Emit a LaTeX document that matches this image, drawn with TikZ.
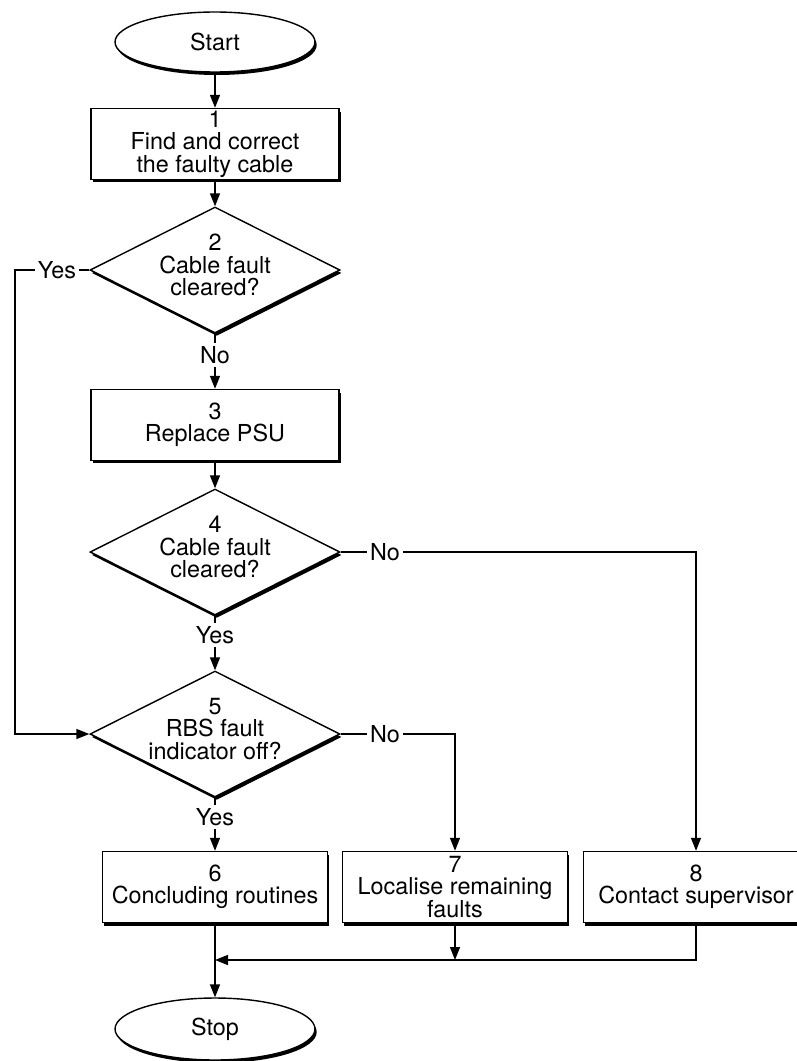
\documentclass[tikz,border=0pt]{standalone}
\usepackage{fontspec}
\setmainfont{TeX Gyre Heros}
\usetikzlibrary{
  positioning, arrows.meta,
  shapes.geometric, shadows
}

\begin{document}
\begin{tikzpicture}[x=0.02cm, y=-0.02cm, line width=0.8pt,
    font=\fontsize{13.3}{12.8}\selectfont,
    >={Triangle[length=0.26cm,width=0.2cm]},
    boxshadow/.style={fill=white, drop shadow={shadow xshift=0.035cm, shadow yshift=-0.06cm, fill=black, opacity=1}},
    term/.style={ellipse, draw, boxshadow, minimum width=4cm, minimum height=1.2cm, inner sep=0pt},
    box/.style={rectangle, draw, boxshadow, align=center, minimum width=4.96cm, minimum height=1.42cm, inner sep=0pt},
    dec/.style={diamond, draw, boxshadow, minimum width=5cm, minimum height=2.52cm, inner sep=0pt},
    lbl/.style={inner sep=0.05cm}]
      \useasboundingbox (0,0) rectangle (797,1061);
      % main column
      \node[term] (start) at (215,42) {Start};
      \node[box] (b1) at (215,144) {1\\Find and correct\\the faulty cable};
      \node[dec, label={[align=center,yshift=0.1cm]center:2\\Cable fault\\cleared?}] (d2) at (215,270) {};
      \node[lbl] (no2) at (215,355) {No};
      \node[box] (b3) at (215,425) {3\\Replace PSU};
      \node[dec, label={[align=center,yshift=0.1cm]center:4\\Cable fault\\cleared?}] (d4) at (215,552) {};
      \node[lbl] (yes4) at (215,635) {Yes};
      \node[dec, label={[align=center,yshift=0.1cm]center:5\\RBS fault\\indicator off?}] (d5) at (215,734) {};
      \node[lbl] (yes5) at (215,817) {Yes};
      % bottom row
      \node[box, minimum width=4.5cm] (b6) at (215,887) {6\\Concluding routines};
      \node[box, minimum width=4.5cm] (b7) at (455,887) {7\\Localise remaining\\faults};
      \node[box, minimum width=4.5cm] (b8) at (696,887) {8\\Contact supervisor};
      \node[term, minimum height=1.24cm] (stop) at (215,1029) {Stop};
      % side labels
      \node[lbl] (yes2) at (57,270) {Yes};
      \node[lbl] (no4) at (385,552) {No};
      \node[lbl] (no5) at (385,734) {No};
      \coordinate (lft) at (15,270);
      \coordinate (m6) at (215,960);
      \coordinate (m7) at (455,960);

      \draw[->] (start) -- (b1);
      \draw[->] (b1) -- (d2);
      \draw (d2.south) -- (no2);
      \draw[->] (no2) -- (b3);
      \draw[->] (b3) -- (d4);
      \draw (d4.south) -- (yes4);
      \draw[->] (yes4) -- (d5);
      \draw (d5.south) -- (yes5);
      \draw[->] (yes5) -- (b6);
      \draw (d2.west) -- (yes2);
      \draw[->] (yes2) -- (lft) |- (d5.west);
      \draw (d4.east) -- (no4);
      \draw[->] (no4) -| (b8);
      \draw (d5.east) -- (no5);
      \draw[->] (no5) -| (b7);
      \draw[->] (b6) -- (stop);
      \draw[->] (b7) -- (m7);
      \draw[->] (b8) |- (m6);
    \end{tikzpicture}
\end{document}
